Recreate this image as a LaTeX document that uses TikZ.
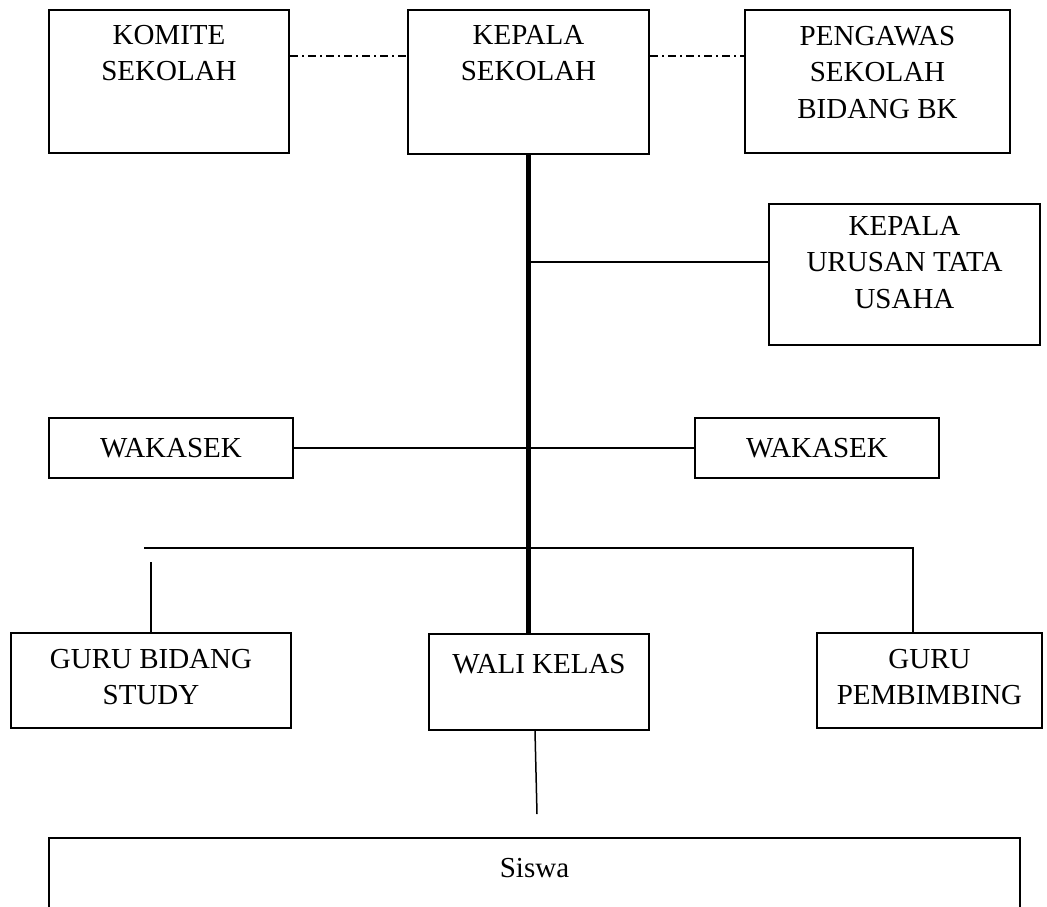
\documentclass[tikz,border=0pt]{standalone}
\usepackage{fontspec}
\setmainfont{Liberation Serif}
\usetikzlibrary{calc}

\newcommand{\boxfont}{\fontsize{29}{36.5}\selectfont}
\tikzset{
  box/.style={draw, line width=2pt, inner sep=0pt},
  txt/.style={anchor=north, align=center, inner sep=0pt, font=\boxfont},
  conn/.style={line width=2pt},
  trunk/.style={line width=4.5pt},
  dashdot/.style={line width=1.5pt, dash pattern=on 8pt off 4pt on 2pt off 4pt}
}

\begin{document}
\begin{tikzpicture}[x=1pt, y=-1pt]
\clip (0,0) rectangle (1047,906);
% top row
\node[box, minimum width=240pt, minimum height=143pt, label={[txt, yshift=-16pt]north:KOMITE\\SEKOLAH}] (komite) at (169,81.5) {};
\node[box, minimum width=241pt, minimum height=144pt, label={[txt, yshift=-16pt]north:KEPALA\\SEKOLAH}] (kepala) at (528.5,82) {};
\node[box, minimum width=265pt, minimum height=143pt, label={[txt, yshift=-17pt]north:PENGAWAS\\SEKOLAH\\BIDANG BK}] (pengawas) at (877.5,81.5) {};
\node[box, minimum width=271pt, minimum height=141pt, label={[txt, yshift=-13pt]north:KEPALA\\URUSAN TATA\\USAHA}] (urusan) at (904.5,274.5) {};
% wakasek
\node[box, minimum width=244pt, minimum height=60pt, font=\boxfont] (wakL) at (171,448) {WAKASEK};
\node[box, minimum width=244pt, minimum height=60pt, font=\boxfont] (wakR) at (817,448) {WAKASEK};
% guru row
\node[box, minimum width=280pt, minimum height=95pt, label={[txt, yshift=-17pt]north:GURU BIDANG\\STUDY}] (guru) at (151,680.5) {};
\node[box, minimum width=220pt, minimum height=96pt, label={[txt, yshift=-21pt]north:WALI KELAS}] (wali) at (539,682) {};
\node[box, minimum width=225pt, minimum height=95pt, label={[txt, yshift=-17pt]north:GURU\\PEMBIMBING}] (pemb) at (929.5,680.5) {};
\node[box, minimum width=971pt, minimum height=112pt, label={[txt, yshift=-21pt]north:Siswa}] (siswa) at (534.5,894) {};

\draw[dashdot] (komite.east |- 0,56) -- (kepala.west |- 0,56);
\draw[dashdot] (kepala.east |- 0,56) -- (pengawas.west |- 0,56);

\coordinate (tu) at (kepala.south |- 0,262);
\coordinate (barL) at (144,548);
\coordinate (barR) at (913,548);
\coordinate (sw) at (537,814);

\draw[trunk] (kepala.south) -- (kepala.south |- wali.north);
\draw[conn] (tu) -- (tu -| urusan.west);
\draw[conn] (wakL.east) -- (wakR.west);
\draw[conn] (barL) -- (barR) -- (barR |- pemb.north);
\draw[conn] (guru.north |- 0,562) -- (guru.north);
\draw[line width=1.5pt] ([xshift=-4pt]wali.south) -- (sw);
\end{tikzpicture}
\end{document}
